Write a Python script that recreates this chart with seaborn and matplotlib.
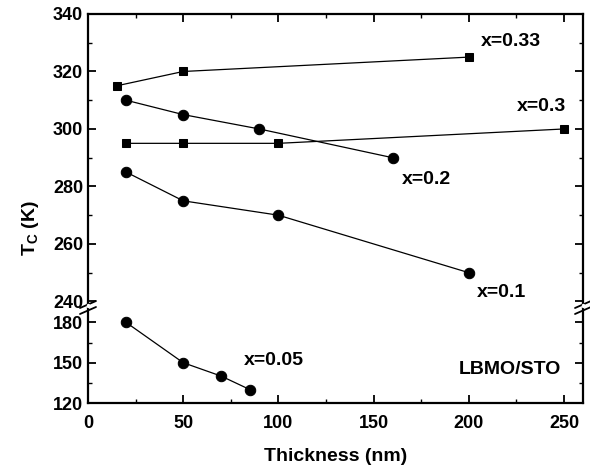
import matplotlib
matplotlib.use("Agg")
import matplotlib.pyplot as plt
from matplotlib.ticker import MultipleLocator
import seaborn as sns
import pandas as pd

sns.set_theme(style="ticks")
plt.rcParams['font.family'] = ['Liberation Sans', 'DejaVu Sans']
plt.rcParams['font.weight'] = 'bold'
plt.rcParams['text.color'] = 'black'
plt.rcParams['axes.labelcolor'] = 'black'
plt.rcParams['xtick.color'] = 'black'
plt.rcParams['ytick.color'] = 'black'

# Data (thickness in nm, Tc in K)
x033_t = [15, 50, 200]
x033_tc = [315, 320, 325]
x03_t = [20, 50, 100, 250]
x03_tc = [295, 295, 295, 300]
x02_t = [20, 50, 90, 160]
x02_tc = [310, 305, 300, 290]
x01_t = [20, 50, 100, 200]
x01_tc = [285, 275, 270, 250]
x005_t = [20, 50, 70, 85]
x005_tc = [180, 150, 140, 130]

series = [
    ("x=0.33", x033_t, x033_tc, "s"),
    ("x=0.3", x03_t, x03_tc, "s"),
    ("x=0.2", x02_t, x02_tc, "o"),
    ("x=0.1", x01_t, x01_tc, "o"),
]

fig = plt.figure(figsize=(5.9, 4.7), dpi=100)
L, R = 88 / 590, 583 / 590
top_y, mid_y, bot_y = 1 - 14 / 470, 1 - 304 / 470, 1 - 403 / 470
ax1 = fig.add_axes([L, mid_y, R - L, top_y - mid_y])
ax2 = fig.add_axes([L, bot_y, R - L, mid_y - bot_y])

for name, t, tc, m in series:
    df = pd.DataFrame({"t": t, "tc": tc})
    ms = 6.0 if m == "s" else 7.5
    sns.lineplot(data=df, x="t", y="tc", ax=ax1, color="black", lw=0.9,
                 marker=m, markersize=ms, markeredgecolor="black", sort=False)
df5 = pd.DataFrame({"t": x005_t, "tc": x005_tc})
sns.lineplot(data=df5, x="t", y="tc", ax=ax2, color="black", lw=0.9,
             marker="o", markersize=7.5, markeredgecolor="black", sort=False)

ax1.set_xlim(0, 260)
ax2.set_xlim(0, 260)
ax1.set_ylim(239.1, 340)
ax2.set_ylim(120, 193.7)

for ax in (ax1, ax2):
    ax.set_xlabel("")
    ax.set_ylabel("")
    ax.xaxis.set_major_locator(MultipleLocator(50))
    ax.xaxis.set_minor_locator(MultipleLocator(25))
    for s in ax.spines.values():
        s.set_linewidth(1.6)
        s.set_color("black")
    ax.tick_params(which="both", direction="in", top=True, right=True,
                   colors="black", labelsize=13, labelcolor="black")
    ax.tick_params(which="major", length=6, width=1.3)
    ax.tick_params(which="minor", length=3, width=1.0)

ax1.yaxis.set_major_locator(MultipleLocator(20))
ax1.yaxis.set_minor_locator(MultipleLocator(10))
ax2.yaxis.set_major_locator(MultipleLocator(30))
ax2.yaxis.set_minor_locator(MultipleLocator(15))
ax1.spines["bottom"].set_visible(False)
ax2.spines["top"].set_visible(False)
ax1.tick_params(which="both", bottom=False, labelbottom=False)
ax2.tick_params(which="both", top=False)
ax2.tick_params(axis="x", which="major", pad=9)

for lab in ax1.get_yticklabels() + ax2.get_yticklabels() + ax2.get_xticklabels():
    lab.set_fontweight("bold")

ax2.set_xlabel("Thickness (nm)", fontsize=14, fontweight="bold", labelpad=11,
               color="black")
fig.text(0.052, 1 - 228 / 470, r"T$_\mathregular{C}$ (K)", rotation=90,
         fontsize=14, fontweight="bold", ha="center", va="center", color="black")

# Break marks on left and right spines
for xpx in (88, 583):
    for dy in (0, 6):
        y0 = 1 - (308 + dy) / 470
        y1 = 1 - (301 + dy) / 470
        fig.add_artist(plt.Line2D([(xpx - 8) / 590, (xpx + 8) / 590], [y0, y1],
                                  color="black", lw=1.3))
    fig.add_artist(plt.Line2D([xpx / 590, xpx / 590],
                              [1 - 306 / 470, 1 - 304.5 / 470],
                              color="white", lw=2.5))

txt = dict(fontsize=14, fontweight="bold", ha="center", va="center", color="black")
ax1.text(222, 330.3, "x=0.33", **txt)
ax1.text(238, 307.7, "x=0.3", **txt)
ax1.text(177.6, 282.3, "x=0.2", **txt)
ax1.text(217, 243, "x=0.1", **txt)
ax2.text(97.5, 152, "x=0.05", **txt)
ax2.text(221.5, 144.6, "LBMO/STO", **txt)

fig.savefig("out.png", dpi=100)
